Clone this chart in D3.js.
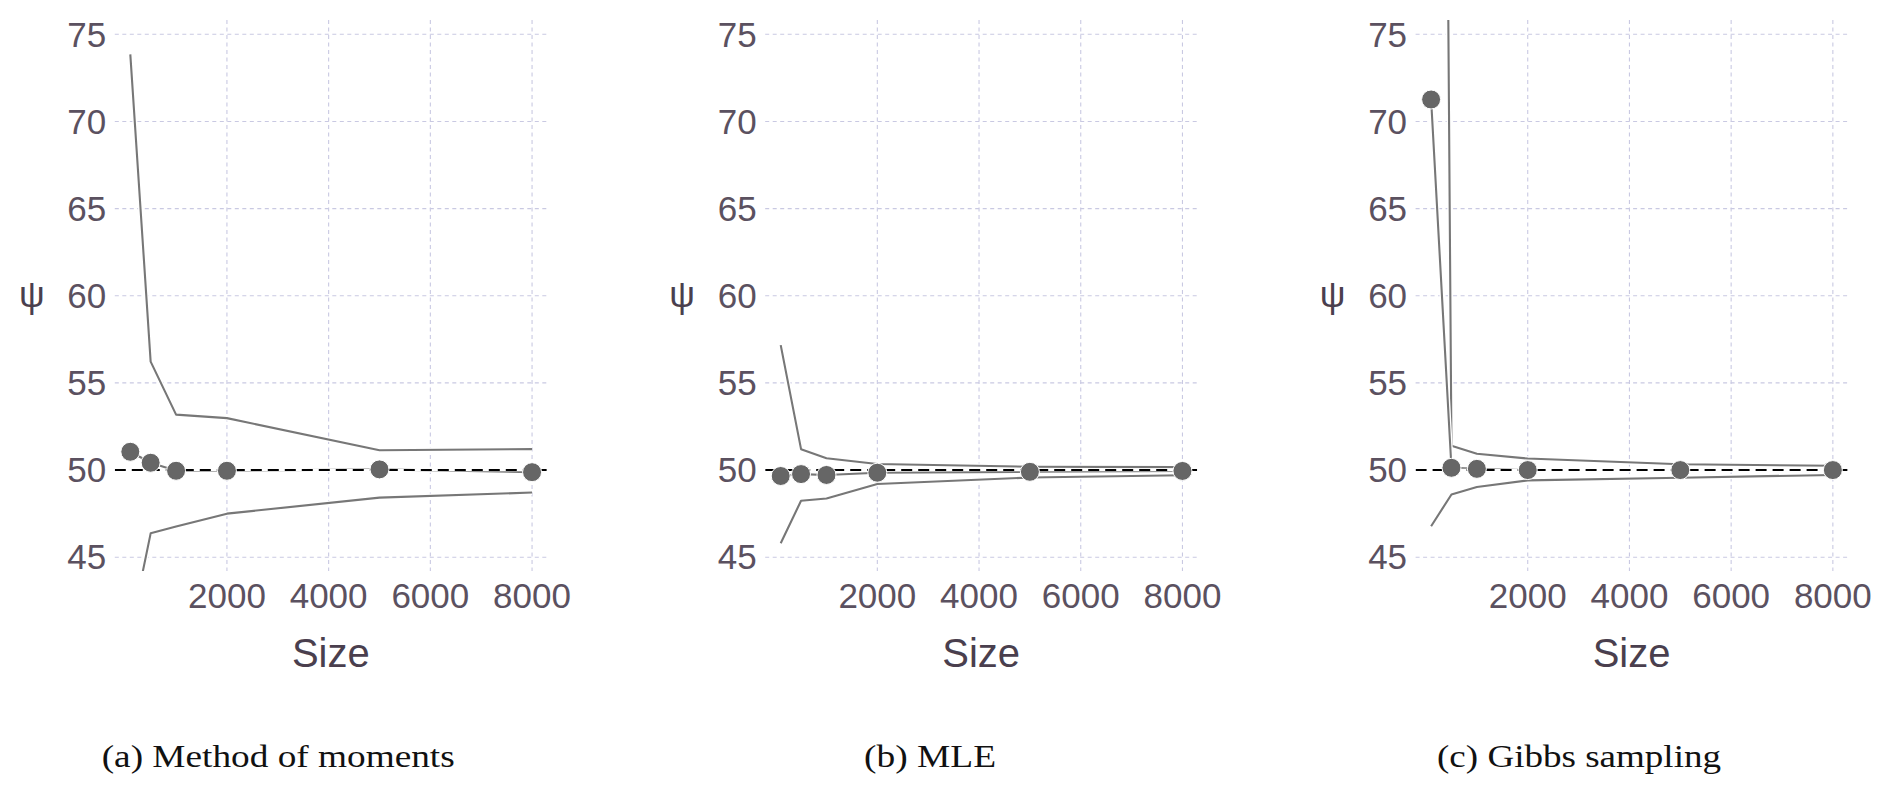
<!DOCTYPE html>
<html><head><meta charset="utf-8">
<script src="https://cdn.jsdelivr.net/npm/d3@7"></script>
<style>body{margin:0;background:#fff} svg{display:block}</style>
</head><body>
<script>
// ---- data ----
const sizes = [100, 500, 1000, 2000, 5000, 8000];
const momEstimate = [51.05, 50.42, 49.96, 49.96, 50.04, 49.88];
const momUpper    = [73.85, 56.22, 53.18, 52.98, 51.14, 51.2];
const momLower    = [40.7, 46.37, 46.76, 47.5, 48.42, 48.71];
const mleEstimate = [49.66, 49.77, 49.72, 49.85, 49.9, 49.95];
const mleUpper    = [57.17, 51.2, 50.68, 50.35, 50.19, 50.17];
const mleLower    = [45.8, 48.24, 48.37, 49.2, 49.57, 49.7];
const gibbsEstimate = [71.26, 50.13, 50.07, 50.0, 50.0, 50.0];
const gibbsUpper    = [210, 51.39, 50.94, 50.66, 50.33, 50.25];
const gibbsLower    = [46.78, 48.6, 49.03, 49.41, 49.56, 49.72];
const trueValue = 50;
const xTicks = [2000, 4000, 6000, 8000];
const yTicks = [45, 50, 55, 60, 65, 70, 75];
const captions = ["(a) Method of moments", "(b) MLE", "(c) Gibbs sampling"];
const xTitle = "Size";
const yTitle = "ψ";

// ---- layout ----
const W = 1892, H = 793;
const panelLefts = [114.8, 765.2, 1415.6];
const panelW = 432, panelTop = 20, panelBottom = 571;
const capStart = [101.7, 864, 1437];
const capLen = [353, 132, 284];
const tickColor = "#5b5160", titleColor = "#4a3f4e";
const gridColor = "#c9c9e2", lineColor = "#777777", pointColor = "#666666";

const svg = d3.select("body").append("svg").attr("width", W).attr("height", H)
  .style("font-family", "'Liberation Sans', Arial, sans-serif");
svg.append("rect").attr("width", W).attr("height", H).attr("fill", "#fff");

const panels = [
  {est: momEstimate, up: momUpper, lo: momLower},
  {est: mleEstimate, up: mleUpper, lo: mleLower},
  {est: gibbsEstimate, up: gibbsUpper, lo: gibbsLower}
];

panels.forEach((p, i) => {
  const L = panelLefts[i];
  const x = d3.scaleLinear().domain([-205, 8290]).range([L, L + panelW]);
  const y = d3.scaleLinear().domain([44.21, 75.82]).range([panelBottom, panelTop]);
  const g = svg.append("g");
  const clipId = "clip" + i;
  svg.append("defs").append("clipPath").attr("id", clipId)
    .append("rect").attr("x", L).attr("y", panelTop).attr("width", panelW).attr("height", panelBottom - panelTop);

  // grid
  g.selectAll(".hg").data(yTicks).enter().append("line")
    .attr("x1", L).attr("x2", L + panelW).attr("y1", d => y(d)).attr("y2", d => y(d))
    .attr("stroke", gridColor).attr("stroke-width", 1.1).attr("stroke-dasharray", "4,3.5");
  g.selectAll(".vg").data(xTicks).enter().append("line")
    .attr("y1", panelTop).attr("y2", panelBottom).attr("x1", d => x(d)).attr("x2", d => x(d))
    .attr("stroke", gridColor).attr("stroke-width", 1.1).attr("stroke-dasharray", "4,3.5");

  const plot = g.append("g").attr("clip-path", `url(#${clipId})`);
  const line = arr => d3.line().x((d, k) => x(sizes[k])).y(d => y(d))(arr);
  [p.up, p.lo, p.est].forEach(arr => {
    plot.append("path").attr("d", line(arr)).attr("fill", "none")
      .attr("stroke", "#fff").attr("stroke-width", 4.8).attr("stroke-linejoin", "round");
    plot.append("path").attr("d", line(arr)).attr("fill", "none")
      .attr("stroke", lineColor).attr("stroke-width", 2.1).attr("stroke-linejoin", "round");
  });
  // true value reference
  plot.append("line").attr("x1", L).attr("x2", L + panelW)
    .attr("y1", y(trueValue)).attr("y2", y(trueValue))
    .attr("stroke", "#fff").attr("stroke-width", 2.6);
  plot.append("line").attr("x1", L).attr("x2", L + panelW)
    .attr("y1", y(trueValue)).attr("y2", y(trueValue))
    .attr("stroke", "#000").attr("stroke-width", 2).attr("stroke-dasharray", "11,6");
  // points
  plot.selectAll("circle").data(p.est).enter().append("circle")
    .attr("cx", (d, k) => x(sizes[k])).attr("cy", d => y(d)).attr("r", 9.5)
    .attr("fill", pointColor).attr("stroke", "#fff").attr("stroke-width", 1);

  // axes labels
  g.selectAll(".yl").data(yTicks).enter().append("text")
    .attr("x", L - 8.5).attr("y", d => y(d)).attr("dy", "0.35em")
    .attr("text-anchor", "end").attr("font-size", 35).attr("fill", tickColor).text(d => d);
  g.selectAll(".xl").data(xTicks).enter().append("text")
    .attr("x", d => x(d)).attr("y", 607.5)
    .attr("text-anchor", "middle").attr("font-size", 35).attr("fill", tickColor).text(d => d);
  g.append("text").attr("x", L + panelW / 2).attr("y", 666.5).attr("text-anchor", "middle")
    .attr("font-size", 40).attr("fill", titleColor).text(xTitle);
  g.append("text").attr("x", L - 83).attr("y", 307).attr("text-anchor", "middle")
    .attr("font-size", 36).attr("fill", titleColor).text(yTitle);

  // caption
  svg.append("text").attr("x", capStart[i]).attr("y", 766.7)
    .attr("font-family", "'Liberation Serif', 'Times New Roman', serif")
    .attr("font-size", 32).attr("fill", "#111")
    .attr("textLength", capLen[i]).attr("lengthAdjust", "spacingAndGlyphs")
    .text(captions[i]);
});
</script>
</body></html>
